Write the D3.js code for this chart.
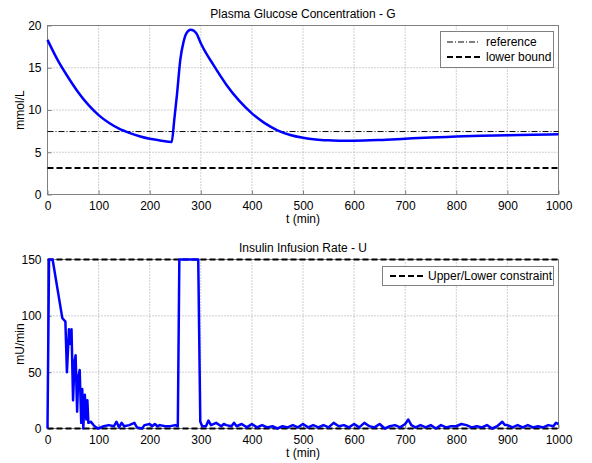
<!DOCTYPE html>
<html>
<head>
<meta charset="utf-8">
<script src="https://cdn.jsdelivr.net/npm/d3@7"></script>
<style>
  body { margin: 0; background: #fff; }
  text { font-family: "Liberation Sans", Arial, sans-serif; font-size: 12px; fill: #000; }
</style>
</head>
<body>
<script>
// glucose readings (t in min, G in mmol/L)
var gT = [0, 20, 40, 60, 80, 100, 120, 140, 160, 180, 200, 220, 243, 248, 253, 260, 266, 272, 280, 286, 292, 300, 325, 350, 375, 400, 425, 450, 475, 500, 525, 550, 575, 600, 650, 700, 750, 800, 850, 900, 950, 1000];
var gV = [18.3, 15.9, 13.9, 12.1, 10.6, 9.4, 8.5, 7.8, 7.3, 6.9, 6.6, 6.4, 6.2, 8.8, 11.6, 16.0, 18.0, 19.1, 19.5, 19.4, 19.0, 17.9, 15.3, 13.0, 11.1, 9.6, 8.45, 7.6, 7.05, 6.72, 6.52, 6.42, 6.37, 6.37, 6.45, 6.6, 6.75, 6.85, 6.95, 7.0, 7.08, 7.12];
var gRef = 7.45;
var gLow = 3.15;

// insulin infusion rate (mU/min)
var uT = [0, 3, 10, 29, 35, 38, 42, 45, 47, 50, 53, 55, 58, 60, 63, 66, 68, 70, 73, 76, 78, 80, 85, 90, 95, 100, 110, 120, 130, 135, 140, 145, 150, 160, 170, 175, 185, 190, 200, 205, 210, 215, 220, 230, 240, 250, 255, 258, 262, 295, 299, 303, 310, 315, 320, 330, 340, 345, 350, 360, 365, 370, 380, 390, 400, 410, 420, 430, 440, 450, 460, 470, 480, 490, 500, 510, 520, 530, 540, 550, 560, 570, 580, 590, 600, 610, 620, 630, 640, 650, 660, 670, 680, 690, 700, 706, 712, 720, 730, 740, 750, 760, 770, 780, 790, 800, 810, 820, 830, 840, 850, 860, 870, 880, 890, 895, 900, 910, 920, 930, 940, 950, 960, 970, 980, 990, 995, 1000];
var uV = [0, 150, 150, 98, 95, 50, 88, 75, 88, 25, 60, 65, 15, 45, 52, 5, 35, 0, 30, 8, 25, 5, 6, 3, 1, 0, 2, 3, 2, 6, 1, 5, 2, 3, 5, 1, 0, 3, 4, 2, 4, 2, 3, 2, 2, 3, 2, 150, 150, 150, 6, 2, 2, 7, 3, 5, 2, 4, 3, 2, 5, 2, 4, 1, 4, 1, 3, 1, 2, 0, 2, 1, 3, 1, 4, 1, 3, 1, 3, 1, 5, 2, 3, 1, 4, 1, 5, 2, 1, 4, 0, 2, 3, 1, 4, 8, 3, 1, 3, 1, 3, 0, 3, 1, 2, 2, 4, 3, 1, 2, 1, 3, 0, 2, 6, 3, 3, 1, 3, 1, 3, 1, 2, 1, 3, 2, 5, 4];
var uMax = 150, uMin = 0;

var xTicks = d3.range(0, 1001, 100);

var W = 592, H = 463;
var svg = d3.select("body").append("svg").attr("width", W).attr("height", H);

var x = d3.scaleLinear().domain([0, 1000]).range([47.5, 558.5]);

function panel(top, bottom, yDomain, yTicks, title, ylab) {
  var y = d3.scaleLinear().domain(yDomain).range([bottom, top]);
  var g = svg.append("g");
  // grid
  g.selectAll(".gx").data(xTicks.slice(1, -1)).enter().append("line")
    .attr("x1", d => x(d)).attr("x2", d => x(d)).attr("y1", top).attr("y2", bottom)
    .attr("stroke", "#a0a0a0").attr("stroke-dasharray", "1,2");
  g.selectAll(".gy").data(yTicks.slice(1, -1)).enter().append("line")
    .attr("y1", d => y(d)).attr("y2", d => y(d)).attr("x1", x(0)).attr("x2", x(1000))
    .attr("stroke", "#a0a0a0").attr("stroke-dasharray", "1,2");
  // axes
  var xa = g.append("g").attr("transform", "translate(0," + bottom + ")")
    .call(d3.axisBottom(x).tickValues(xTicks).tickFormat(d3.format("d")).tickSize(-4).tickPadding(7));
  var ya = g.append("g").attr("transform", "translate(" + x(0) + ",0)")
    .call(d3.axisLeft(y).tickValues(yTicks).tickFormat(d3.format("d")).tickSize(-4).tickPadding(6));
  [xa, ya].forEach(function (a) {
    a.select(".domain").remove();
    a.selectAll("line").attr("stroke", "#808080");
    a.selectAll("text").style("font-size", "12px").style("font-family", "Liberation Sans, Arial, sans-serif").attr("fill", "#000");
  });
  g.append("rect").attr("x", x(0)).attr("y", top).attr("width", x(1000) - x(0)).attr("height", bottom - top)
    .attr("fill", "none").attr("stroke", "#808080");
  g.append("text").attr("x", 303).attr("y", top - 8).attr("text-anchor", "middle").text(title);
  g.append("text").attr("x", 303).attr("y", bottom + 28).attr("text-anchor", "middle").text("t (min)");
  g.append("text").attr("transform", "translate(24," + ((top + bottom) / 2) + ") rotate(-90)")
    .attr("text-anchor", "middle").text(ylab);
  return y;
}

// top panel: glucose
var yG = panel(25.5, 194.5, [0, 20], [0, 5, 10, 15, 20], "Plasma Glucose Concentration - G", "mmol/L");
svg.append("line").attr("x1", x(0)).attr("x2", x(1000)).attr("y1", yG(gRef)).attr("y2", yG(gRef))
  .attr("stroke", "#000").attr("stroke-dasharray", "6,2,1,2");
svg.append("line").attr("x1", x(0)).attr("x2", x(1000)).attr("y1", yG(gLow)).attr("y2", yG(gLow))
  .attr("stroke", "#000").attr("stroke-width", 2).attr("stroke-dasharray", "6,3");
svg.append("path").datum(d3.zip(gT, gV))
  .attr("d", d3.line().x(d => x(d[0])).y(d => yG(d[1])).curve(d3.curveMonotoneX))
  .attr("fill", "none").attr("stroke", "#0000ff").attr("stroke-width", 2.5);

// legend top
svg.append("rect").attr("x", 440.5).attr("y", 31.5).attr("width", 113).attr("height", 36)
  .attr("fill", "#fff").attr("stroke", "#808080");
svg.append("line").attr("x1", 447).attr("x2", 480).attr("y1", 42).attr("y2", 42)
  .attr("stroke", "#000").attr("stroke-dasharray", "6,2,1,2");
svg.append("line").attr("x1", 447).attr("x2", 480).attr("y1", 57).attr("y2", 57)
  .attr("stroke", "#000").attr("stroke-width", 2).attr("stroke-dasharray", "6,3");
svg.append("text").attr("x", 486).attr("y", 46).text("reference");
svg.append("text").attr("x", 486).attr("y", 61).text("lower bound");

// bottom panel: insulin
var yU = panel(259.5, 428.5, [0, 150], [0, 50, 100, 150], "Insulin Infusion Rate - U", "mU/min");
[uMax, uMin].forEach(function (v) {
  svg.append("line").attr("x1", x(0)).attr("x2", x(1000)).attr("y1", yU(v)).attr("y2", yU(v))
    .attr("stroke", "#000").attr("stroke-width", 2).attr("stroke-dasharray", "6,3");
});
svg.append("path").datum(d3.zip(uT, uV))
  .attr("d", d3.line().x(d => x(d[0])).y(d => yU(d[1])))
  .attr("fill", "none").attr("stroke", "#0000ff").attr("stroke-width", 2.5).attr("stroke-linejoin", "round");

// legend bottom
svg.append("rect").attr("x", 382.5).attr("y", 266.5).attr("width", 171).attr("height", 19)
  .attr("fill", "#fff").attr("stroke", "#808080");
svg.append("line").attr("x1", 390).attr("x2", 424).attr("y1", 276).attr("y2", 276)
  .attr("stroke", "#000").attr("stroke-width", 2).attr("stroke-dasharray", "6,3");
svg.append("text").attr("x", 428).attr("y", 280).text("Upper/Lower constraint");
</script>
</body>
</html>
